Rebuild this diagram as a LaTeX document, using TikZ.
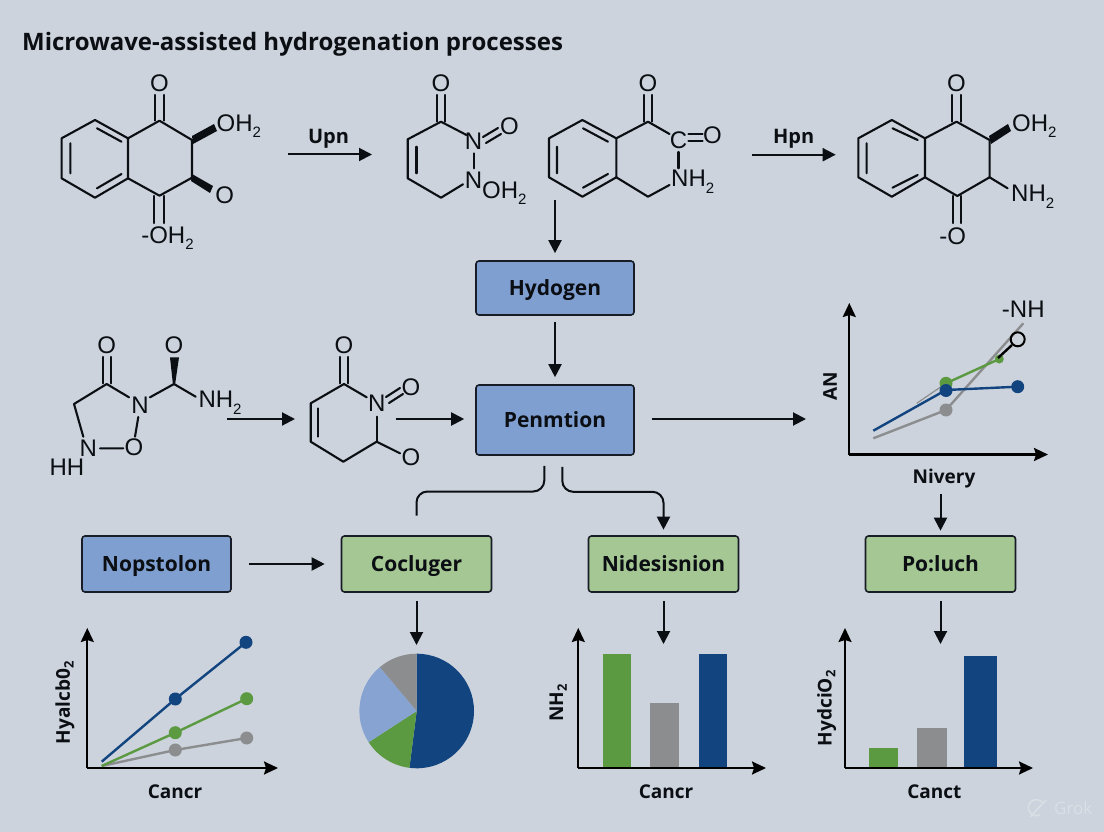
\documentclass[tikz,border=0pt]{standalone}
\usepackage{fontspec}
\setmainfont{Liberation Sans}
\newfontfamily\lblfont{Open Sans}
\usetikzlibrary{arrows.meta,calc}
\definecolor{bgc}{HTML}{CCD3DC}
\definecolor{inkc}{HTML}{0B0E13}
\definecolor{navy}{HTML}{124480}
\definecolor{leaf}{HTML}{5C9A42}
\definecolor{ash}{HTML}{8C8D8F}
\definecolor{sky}{HTML}{86A3D2}
\definecolor{boxblue}{HTML}{7F9FD0}
\definecolor{boxgreen}{HTML}{A4C793}
\definecolor{wm}{HTML}{DADFE5}
\newcommand{\stwo}{\raisebox{-0.28em}{\fontsize{15}{15}\selectfont 2}}
\newcommand{\rstwo}{\raisebox{-0.2em}{\fontsize{13}{13}\selectfont 2}}
\tikzset{
  bond/.style={draw=inkc,line width=2.1pt,line cap=round,line join=round},
  atom/.style={font=\fontsize{24}{24}\selectfont,text=inkc,inner sep=0pt},
  atoml/.style={atom,anchor=west},
  rlabel/.style={font=\lblfont\bfseries\fontsize{20}{20}\selectfont,text=inkc,inner sep=0pt},
  axlabel/.style={font=\lblfont\bfseries\fontsize{19}{19}\selectfont,text=inkc,inner sep=0pt},
  arr/.style={draw=inkc,line width=2pt,-{Triangle[length=13pt,width=13pt]}},
  plainc/.style={draw=inkc,line width=2pt,rounded corners=11pt},
  axis/.style={draw=black,line width=2.2pt,-{Stealth[length=14pt,width=13pt,inset=2pt]}},
  procbox/.style={draw=inkc!90!boxblue,line width=1.6pt,rounded corners=3pt,inner sep=0pt,minimum height=56pt,minimum width=150pt,
     font=\lblfont\bfseries\fontsize{21}{21}\selectfont,text=inkc,text height=15.4pt,text depth=0pt},
  bluebox/.style={procbox,fill=boxblue},
  greenbox/.style={procbox,fill=boxgreen},
  dot/.style={circle,inner sep=0pt,minimum size=13pt},
  navyline/.style={draw=navy,line width=2.4pt},
  leafline/.style={draw=leaf,line width=2.4pt},
  ashline/.style={draw=ash,line width=2.4pt},
}
\begin{document}
\begin{tikzpicture}[x=1pt,y=-1pt]
\useasboundingbox (0,0) rectangle (1104,832);
\fill[bgc] (0,0) rectangle (1104,832);
\node[anchor=west,inner sep=0pt,text=inkc,font=\lblfont\bfseries\fontsize{24}{24}\selectfont] (title) at (22,44) {Microwave-assisted hydrogenation processes};

% ---- molecule 1
\draw[bond] (61.6,138.3)--(95,120)--(128,138.3)--(128,178.3)--(95,197.7)--(61.6,178.3)--cycle;
\draw[bond] (128,138.3)--(159.5,120.7)--(192,140)--(192,177.7)--(159.5,195.7)--(128,178.3);
\draw[bond] (70.4,143.3)--(70.4,173.3) (97,128.3)--(121.5,141.7) (97,188.3)--(121.5,174);
\node[atom] (m1o1) at (159.5,83) {O};
\draw[bond] (155,95)--(155,120.7) (164,95)--(164,120.7);
\fill[inkc] (192,136) -- (214,124) -- (217,131) -- (193,144) -- cycle;
\node[atoml] (m1oh) at (216.5,126) {OH\stwo};
\fill[inkc] (192,174) -- (213,186) -- (210,193) -- (191,181) -- cycle;
\node[atom] (m1o2) at (224.6,195) {O};
\draw[bond] (154,196)--(154,223) (164,196)--(164,223);
\node[atom] (m1oh2) at (167.5,238) {-OH\stwo};

% arrow Upn
\coordinate (upa) at (288,154.5); \coordinate (upb) at (372,154.5);
\draw[arr] (upa)--(upb);
\node[rlabel] (upn) at (328.5,139) {Upn};

% ---- molecule 2
\node[atom] (m2o1) at (441,83) {O};
\draw[bond] (436.6,95)--(436.6,121.7) (445.4,95)--(445.4,121.7);
\draw[bond] (466.5,135)--(441,121.7)--(407.7,139.3)--(407.7,178.3)--(441,197.7)--(463,184.3);
\draw[bond] (416.5,146.7)--(416.5,173.3);
\node[atom] (m2n1) at (473.6,141.7) {N};
\node[atom] (m2n2) at (473.6,180) {N};
\draw[bond] (473.6,153.3)--(473.6,168.3);
\draw[bond] (483,137)--(498,128) (486,143)--(501,134);
\node[atom] (m2o2) at (509.5,126) {O};
\node[atoml] (m2oh) at (482,193) {OH\stwo};

% ---- molecule 3
\draw[bond] (549,138.3)--(582.4,120)--(616.3,138.3)--(616.3,177.3)--(582.4,196.7)--(549,177.3)--cycle;
\draw[bond] (557,146.7)--(557,173.3) (583,128.3)--(608,141.7) (583,187.7)--(608,174);
\draw[bond] (616.3,138.3)--(648,121.7)--(669.5,134);
\draw[bond] (616.3,177.3)--(648,196.7)--(669.5,185);
\node[atom] (m3o1) at (648,83.3) {O};
\draw[bond] (643.6,95)--(643.6,121.7) (651.8,95)--(651.8,121.7);
\node[atom] (m3c) at (678.5,140) {C};
\draw[bond] (688.5,134)--(702.6,134) (688.5,141)--(702.6,141);
\node[atom] (m3o2) at (712.5,135) {O};
\draw[bond] (678.5,152)--(678.5,168.3);
\node[atoml] (m3nh) at (671,181.7) {NH\stwo};

% arrow Hpn
\coordinate (hpa) at (751.5,154.7); \coordinate (hpb) at (835.7,154.7);
\draw[arr] (hpa)--(hpb);
\node[rlabel] (hpn) at (793.6,139) {Hpn};

% ---- molecule 4
\draw[bond] (858.3,138.3)--(891.8,120)--(925,138.3)--(925,177.3)--(891.8,196.7)--(858.3,177.3)--cycle;
\draw[bond] (866.6,143.3)--(866.6,173.3) (892.5,128.3)--(917.7,140) (892.5,187.7)--(917.7,175);
\draw[bond] (925,138.3)--(956.5,121.7)--(989.6,140)--(989.6,177.3)--(957.3,196)--(925,177.3);
\node[atom] (m4o1) at (956.5,83.3) {O};
\draw[bond] (952.4,95)--(952.4,121.7) (960.8,95)--(960.8,121.7);
\fill[inkc] (989,136) -- (1008,124) -- (1011,131) -- (991,144) -- cycle;
\node[atoml] (m4oh) at (1012,126) {OH\stwo};
\draw[bond] (989.6,177.3)--(1007.6,188.3);
\node[atoml] (m4nh) at (1011,197) {NH\stwo};
\draw[bond] (952.6,196)--(952.6,223) (961,196)--(961,223);
\node[atom] (m4om) at (952.7,236) {-O};

% ---- molecule 5
\node[atom] (m5o1) at (106.7,345) {O};
\draw[bond] (102.7,357)--(102.7,383.3) (111,357)--(111,383.3);
\draw[bond] (129,397.3)--(106.7,384)--(74,404)--(83.3,436.7);
\node[atom] (m5n1) at (140,405) {N};
\node[atom] (m5n2) at (88.3,448.3) {N};
\node[atom] (m5o2) at (134,447.3) {O};
\draw[bond] (138.3,417)--(135,436.7) (100,448.3)--(123.3,448.3);
\node[atom] (m5hh) at (67,467.7) {HH};
\draw[bond] (150,397.3)--(174,384)--(195.7,396.7);
\fill[inkc] (170,357.3)--(179,357.3)--(175,385)--(173,385)--cycle;
\node[atom] (m5o3) at (174,345) {O};
\node[atoml] (m5nh) at (198.3,403) {NH\stwo};

% arrow to molecule 6
\coordinate (m5out) at (227.3,419); \coordinate (m6in) at (295,419);
\draw[arr] (m5out)--(m6in);

% ---- molecule 6
\node[atom] (m6o1) at (344,345) {O};
\draw[bond] (340,357)--(340,383.3) (348,357)--(348,383.3);
\draw[bond] (366.7,397.3)--(344,384)--(310.7,403.3)--(310.7,441.7)--(343.3,461.7)--(376.7,441.7)--(400,453.3);
\draw[bond] (376.7,416.7)--(376.7,441.7);
\draw[bond] (318.3,408.3)--(318.3,436.7);
\node[atom] (m6n) at (376.7,403.3) {N};
\draw[bond] (386,397)--(400,388) (389,403)--(403,394);
\node[atom] (m6o2) at (411,387.7) {O};
\node[atom] (m6o3) at (411,457.3) {O};

% ---- boxes
\node[bluebox,minimum width=158pt,minimum height=54pt] (hyd) at (555,288) {Hydogen};
\node[bluebox,minimum width=158pt,minimum height=70pt] (pen) at (555,420) {Penmtion};
\node[bluebox,minimum width=149pt] (nop) at (156.5,564) {Nopstolon};
\node[greenbox] (coc) at (416.5,564) {Cocluger};
\node[greenbox] (nid) at (663.5,564) {Nidesisnion};
\node[greenbox] (pol) at (940.5,564) {Po:luch};

% ---- flow connectors
\coordinate (m3out) at (555,200);
\draw[arr] (m3out)--([yshift=7pt]hyd.north);
\draw[arr] ([yshift=-6pt]hyd.south)--([yshift=7pt]pen.north);
\coordinate (m6out) at (395.7,419);
\draw[arr] (m6out)--([xshift=-11pt,yshift=1pt]pen.west);
\coordinate (chartin) at (806,419);
\draw[arr] ([xshift=17pt,yshift=1pt]pen.east)--(chartin);
\draw[plainc] ([xshift=-10.7pt,yshift=-10pt]pen.south) -- ++(0,25.7) -| ([yshift=19.5pt]coc.north);
\draw[plainc,-{Triangle[length=13pt,width=13pt]}] ([xshift=7.3pt,yshift=-11pt]pen.south) -- ++(0,25) -| ([yshift=5.5pt]nid.north);
\draw[arr] ([xshift=17pt]nop.east)--([xshift=-16pt]coc.west);
\coordinate (piein) at (416.5,645);
\coordinate (bar1in) at (663.5,644);
\coordinate (bar2in) at (940.5,644);
\draw[arr] ([yshift=-8pt]coc.south)--(piein);
\draw[arr] ([yshift=-8pt]nid.south)--(bar1in);
\draw[arr] ([yshift=-8pt]pol.south)--(bar2in);
\coordinate (nivout) at (940.5,494);
\draw[arr] (nivout)--([yshift=4.5pt]pol.north);

% ---- chart top right
\coordinate (c0o) at (849.3,454.5);
\draw[axis] (c0o)--(849.3,303);
\draw[axis] (c0o)--(1048,454.5);
\node[axlabel] (c0y) at (830,386.7) {\rotatebox{90}{AN}};
\node[axlabel] (c0x) at (944,479) {Nivery};
\draw[ashline] (873.3,438.3)--(946,410)--(1023.3,323.3);
\draw[draw=ash,line width=1.2pt] (916.7,403.3)--(946,383.3);
\draw[leafline] (946,383.3)--(999.3,359);
\draw[navyline] (873.3,430.7)--(946,390)--(1017.7,386.7);
\node[dot,fill=ash] at (946,410) {};
\node[dot,fill=leaf] at (946,383.3) {};
\node[dot,fill=navy] at (946,390.5) {};
\node[dot,fill=navy] at (1017.7,386.7) {};
\node[dot,fill=leaf,minimum size=9pt] at (999.3,359) {};
\draw[draw=black,line width=2.4pt] (998,358)--(1012,345);
\node[circle,draw=black,line width=2pt,minimum size=14pt,inner sep=0pt] (c0o2) at (1017.7,339.3) {};
\node[atom] (c0nh) at (1023.3,309.3) {-NH};

% ---- chart 1 lines
\coordinate (c1o) at (87.3,768);
\draw[axis] (c1o)--(87.3,628);
\draw[axis] (c1o)--(278,768);
\node[axlabel] (c1y) at (65,702.7) {\rotatebox{90}{Hyalcb0\rstwo}};
\node[axlabel] (c1x) at (175,792) {Cancr};
\draw[ashline] (101.7,766)--(175.3,750)--(246.7,738);
\draw[leafline] (101.7,766)--(175.3,732.7)--(246.7,698.7);
\draw[navyline] (101.7,761.7)--(175.3,699)--(246,642.3);
\node[dot,fill=navy] at (175.3,699) {};
\node[dot,fill=navy] at (246,642.3) {};
\node[dot,fill=leaf] at (175.3,732.7) {};
\node[dot,fill=leaf] at (246.7,698.7) {};
\node[dot,fill=ash] at (175.3,750) {};
\node[dot,fill=ash] at (246.7,738) {};

% ---- pie
\coordinate (pc) at (416.7,711);
\fill[navy] (pc) -- ++(90:57.3pt) arc[start angle=90,end angle=-97.3,radius=57.3pt] -- cycle;
\fill[leaf] (pc) -- ++(262.7:57.3pt) arc[start angle=262.7,end angle=213,radius=57.3pt] -- cycle;
\fill[sky] (pc) -- ++(213:57.3pt) arc[start angle=213,end angle=130,radius=57.3pt] -- cycle;
\fill[ash] (pc) -- ++(130:57.3pt) arc[start angle=130,end angle=90,radius=57.3pt] -- cycle;

% ---- bars 1
\coordinate (c2o) at (578.3,768);
\draw[axis] (c2o)--(578.3,628);
\draw[axis] (c2o)--(766,768);
\node[axlabel] (c2y) at (558.3,703) {\rotatebox{90}{NH\rstwo}};
\node[axlabel] (c2x) at (666,792) {Cancr};
\fill[leaf] (602.7,654.3) rectangle (630.7,767);
\fill[ash] (650.3,702.7) rectangle (679.3,767);
\fill[navy] (699.3,654.3) rectangle (727.3,767);

% ---- bars 2
\coordinate (c3o) at (845,768);
\draw[axis] (c3o)--(845,628);
\draw[axis] (c3o)--(1033,768);
\node[axlabel] (c3y) at (826.7,708.3) {\rotatebox{90}{HydciO\rstwo}};
\node[axlabel] (c3x) at (934.3,792) {Canct};
\fill[leaf] (869,748.3) rectangle (898.3,767);
\fill[ash] (917,727.7) rectangle (946.7,767);
\fill[navy] (964.3,656) rectangle (997,767);

% ---- watermark
\draw[wm,line width=1.6pt] (1042.5,802.5) arc[start angle=40,end angle=300,radius=8pt];
\draw[wm,line width=1.6pt] (1030,817)--(1046,800);
\node[anchor=west,inner sep=0pt,text=wm,font=\lblfont\fontsize{17}{17}\selectfont] (grok) at (1054,808) {Grok};
\end{tikzpicture}
\end{document}
